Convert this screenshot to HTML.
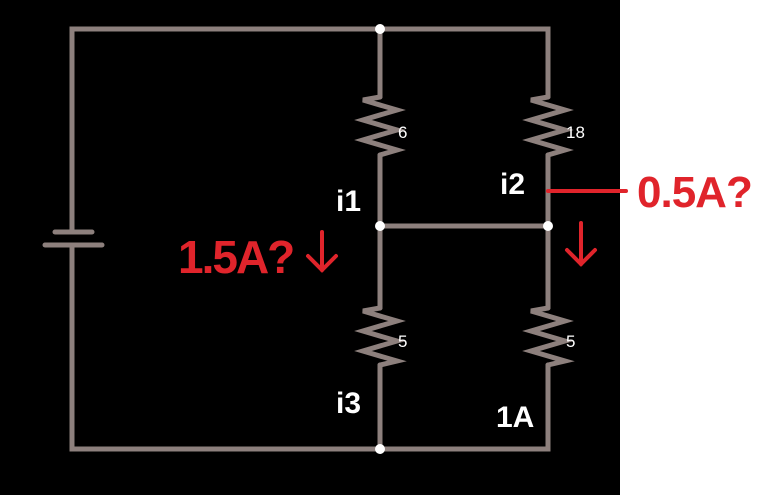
<!DOCTYPE html>
<html><head><style>
html,body{margin:0;padding:0;background:#fff;}
svg{display:block}
</style></head><body>
<svg width="768" height="495" viewBox="0 0 768 495" xmlns="http://www.w3.org/2000/svg">
<rect x="0" y="0" width="620" height="495" fill="#000"/>
<g stroke="#8d807d" stroke-width="5" fill="none" stroke-linecap="round" stroke-linejoin="miter">
<polyline points="72,232 72,29 548,29 548,97"/>
<polyline points="72,245 72,449 548,449 548,365"/>
<line x1="380" y1="29" x2="380" y2="97"/>
<line x1="380" y1="155" x2="380" y2="308"/>
<line x1="380" y1="365" x2="380" y2="449"/>
<line x1="548" y1="155" x2="548" y2="308"/>
<line x1="380" y1="226" x2="548" y2="226"/>
<line x1="55" y1="232" x2="92" y2="232"/>
<line x1="45" y1="245" x2="102" y2="245"/>
<polyline points="380,97 363,100 397,110 363,120 397,130 363,140 397,150 380,155"/>
<polyline points="548,97 531,100 565,110 531,120 565,130 531,140 565,150 548,155"/>
<polyline points="380,308 363,311 397,321 363,331 397,341 363,351 397,361 380,365"/>
<polyline points="548,308 531,311 565,321 531,331 565,341 531,351 565,361 548,365"/>
</g>
<g fill="#fff">
<circle cx="380" cy="29" r="5"/>
<circle cx="380" cy="226" r="5"/>
<circle cx="548" cy="226" r="5"/>
<circle cx="380" cy="449" r="5"/>
</g>
<g fill="#fff" font-family="Liberation Sans, sans-serif">
<text x="398" y="138" font-size="17">6</text>
<text x="566" y="138" font-size="17">18</text>
<text x="398" y="347" font-size="17">5</text>
<text x="566" y="347" font-size="17">5</text>
<text x="336" y="211" font-size="30" font-weight="bold">i1</text>
<text x="500" y="194" font-size="30" font-weight="bold">i2</text>
<text x="336" y="413" font-size="30" font-weight="bold">i3</text>
<text x="496" y="427" font-size="30" font-weight="bold">1A</text>
</g>
<line x1="548" y1="191" x2="626" y2="191" stroke="#e0242b" stroke-width="4" stroke-linecap="round"/>
<g fill="#e0242b" font-family="Liberation Sans, sans-serif" font-weight="bold">
<text x="637" y="207" font-size="44" letter-spacing="-1">0.5A?</text>
<text x="178" y="273" font-size="46" letter-spacing="-2">1.5A?</text>
</g>
<g stroke="#e0242b" stroke-width="4" fill="none" stroke-linecap="round">
<line x1="322" y1="232" x2="322" y2="270"/>
<polyline points="308,256 322,270 336,256"/>
<line x1="581" y1="223" x2="581" y2="264"/>
<polyline points="567,250 581,264 595,250"/>
</g>
</svg>
</body></html>
